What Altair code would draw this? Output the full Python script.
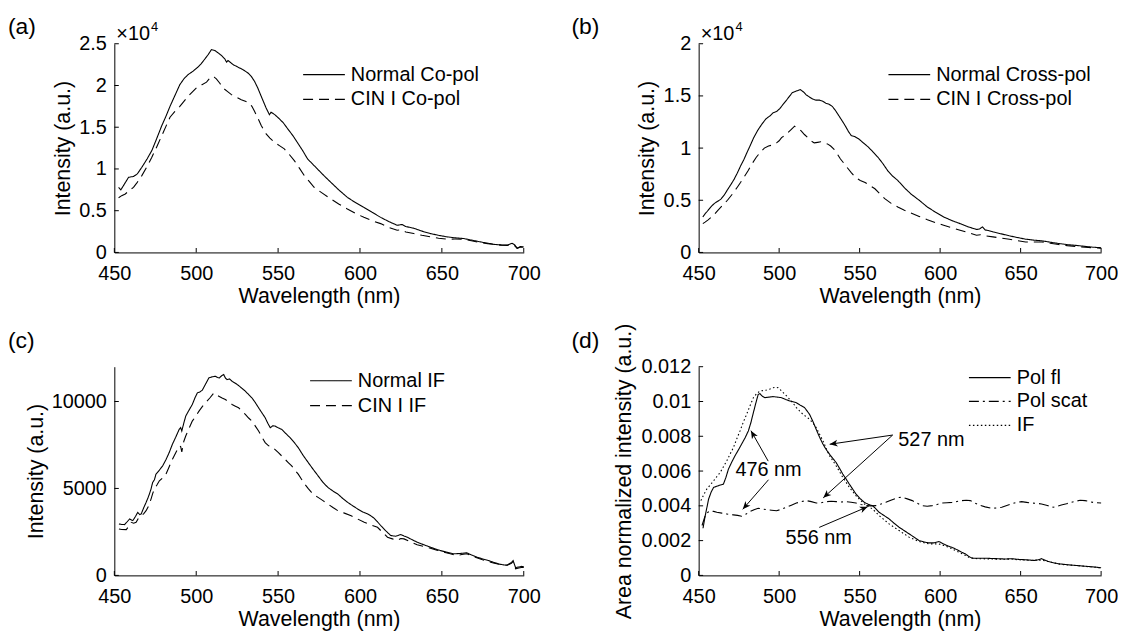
import math
import altair as alt
import pandas as pd

FONT = "Liberation Sans"
W_L, W_R, H = 412, 405, 210

XTICKS = [450, 500, 550, 600, 650, 700]

# ---------------- panel (a): co-polarized (x10^4) ----------------
a_names = ["Normal Co-pol", "CIN I Co-pol"]
a_norm_wl = [452.6, 454.0, 456.5, 458.7, 461.7, 464.0, 466.8, 470.0, 472.9, 476.0, 479.0, 481.5, 484.0, 487.0,
             490.0, 492.5, 495.0, 498.0, 501.0, 503.0, 505.0, 507.3, 509.3, 511.3, 513.4, 515.4, 517.4, 518.5,
             519.4, 522.5, 525.5, 528.5, 531.6, 533.6, 535.6, 537.6, 539.7, 541.2, 542.7, 544.7, 545.7, 548.0,
             550.8, 553.3, 555.9, 559.0, 562.0, 565.0, 568.0, 571.0, 574.0, 578.0, 582.2, 587.0, 592.3, 597.0,
             602.4, 607.5, 612.6, 617.6, 622.7, 625.7, 628.0, 632.8, 637.8, 642.9, 648.0, 653.0, 658.0, 663.2,
             668.0, 673.3, 678.0, 682.4, 686.0, 690.0, 692.8, 694.5, 696.0, 698.0, 700.0]
a_norm_val = [0.78, 0.75, 0.83, 0.90, 0.91, 0.94, 1.02, 1.12, 1.22, 1.37, 1.52, 1.63, 1.75, 1.88,
              2.01, 2.08, 2.13, 2.17, 2.22, 2.26, 2.31, 2.37, 2.43, 2.42, 2.39, 2.36, 2.32, 2.28,
              2.30, 2.25, 2.22, 2.19, 2.15, 2.11, 2.05, 1.97, 1.87, 1.80, 1.73, 1.65, 1.68, 1.65,
              1.60, 1.55, 1.48, 1.40, 1.31, 1.22, 1.12, 1.06, 1.00, 0.92, 0.84, 0.75, 0.66, 0.60,
              0.54, 0.48, 0.42, 0.37, 0.325, 0.335, 0.31, 0.29, 0.255, 0.226, 0.205, 0.187, 0.175, 0.167,
              0.148, 0.127, 0.11, 0.095, 0.09, 0.088, 0.11, 0.09, 0.05, 0.07, 0.065]
a_cin_wl = [452.6, 454.5, 456.7, 459.0, 461.7, 464.0, 466.8, 470.0, 472.9, 476.0, 479.0, 481.5, 484.0, 487.0,
            490.0, 492.5, 495.0, 498.0, 501.0, 503.5, 506.3, 508.0, 509.7, 511.0, 512.3, 514.3, 516.4, 519.0,
            521.5, 524.5, 527.5, 530.0, 532.6, 534.0, 535.6, 537.6, 539.7, 541.2, 542.7, 545.0, 547.8, 550.8,
            553.8, 557.0, 559.9, 563.0, 566.0, 569.0, 572.0, 577.0, 582.2, 587.0, 592.3, 597.0, 602.4, 607.5,
            612.6, 617.6, 622.7, 625.0, 628.0, 632.8, 637.8, 642.9, 648.0, 653.0, 658.0, 663.2, 668.0, 673.3,
            678.0, 682.4, 686.0, 690.0, 692.8, 694.5, 696.0, 698.0, 700.0]
a_cin_val = [0.655, 0.68, 0.70, 0.74, 0.78, 0.84, 0.92, 1.03, 1.14, 1.27, 1.40, 1.51, 1.62, 1.69,
             1.75, 1.81, 1.87, 1.93, 1.99, 2.01, 2.04, 2.08, 2.11, 2.10, 2.08, 2.03, 1.97, 1.93,
             1.89, 1.86, 1.83, 1.81, 1.79, 1.75, 1.69, 1.61, 1.52, 1.47, 1.42, 1.37, 1.32, 1.28,
             1.24, 1.17, 1.10, 1.01, 0.92, 0.85, 0.78, 0.71, 0.64, 0.58, 0.52, 0.47, 0.42, 0.38,
             0.345, 0.30, 0.266, 0.27, 0.245, 0.226, 0.205, 0.187, 0.17, 0.159, 0.16, 0.159, 0.14, 0.119,
             0.105, 0.095, 0.088, 0.085, 0.10, 0.08, 0.05, 0.065, 0.06]

# ---------------- panel (b): cross-polarized (x10^4) ----------------
b_names = ["Normal Cross-pol", "CIN I Cross-pol"]
b_norm_wl = [452.6, 454.0, 455.7, 457.8, 459.8, 461.8, 463.8, 465.9, 467.9, 470.0, 472.0, 474.0, 476.1, 478.1,
             480.1, 482.2, 484.2, 486.7, 489.3, 491.8, 494.4, 496.4, 498.4, 500.5, 502.5, 504.6, 506.6, 508.1,
             509.6, 511.3, 513.1, 515.0, 516.8, 518.8, 520.8, 522.8, 524.9, 527.0, 529.0, 531.0, 533.0, 535.0,
             537.1, 539.2, 541.2, 543.0, 544.8, 547.0, 549.3, 552.3, 555.4, 558.5, 561.5, 564.5, 567.6, 570.6,
             573.7, 577.8, 581.9, 587.0, 592.1, 597.2, 602.2, 607.3, 612.4, 617.5, 622.6, 624.5, 626.3, 628.0,
             630.0, 632.8, 638.0, 643.0, 648.0, 653.1, 658.2, 663.3, 668.4, 673.5, 679.0, 684.0, 690.0, 695.0, 700.0]
b_norm_val = [0.34, 0.37, 0.40, 0.44, 0.47, 0.49, 0.51, 0.55, 0.60, 0.65, 0.70, 0.76, 0.83, 0.89,
              0.96, 1.03, 1.10, 1.17, 1.23, 1.28, 1.31, 1.34, 1.35, 1.38, 1.42, 1.46, 1.50, 1.53,
              1.54, 1.55, 1.56, 1.54, 1.51, 1.49, 1.47, 1.46, 1.46, 1.45, 1.43, 1.42, 1.40, 1.36,
              1.31, 1.26, 1.21, 1.16, 1.12, 1.11, 1.09, 1.05, 1.01, 0.96, 0.91, 0.85, 0.78, 0.73,
              0.69, 0.62, 0.56, 0.50, 0.435, 0.385, 0.34, 0.305, 0.276, 0.245, 0.22, 0.225, 0.245, 0.215,
              0.21, 0.197, 0.178, 0.159, 0.143, 0.127, 0.118, 0.111, 0.098, 0.086, 0.075, 0.068, 0.058, 0.05, 0.045]
b_cin_wl = [452.6, 454.0, 455.7, 458.8, 461.8, 464.8, 467.9, 471.0, 474.0, 476.0, 478.1, 480.6, 483.2, 485.7,
            488.3, 490.8, 493.4, 496.0, 498.4, 500.0, 501.5, 503.5, 505.6, 507.6, 509.6, 511.6, 513.7, 515.7,
            517.8, 519.8, 521.8, 523.9, 525.9, 528.0, 530.0, 532.0, 534.0, 536.1, 538.1, 540.2, 542.2, 544.8,
            547.3, 550.4, 553.4, 556.5, 559.5, 562.6, 565.6, 569.6, 573.7, 577.8, 581.9, 587.0, 592.1, 597.2,
            602.2, 607.3, 612.4, 617.5, 622.6, 625.0, 627.7, 632.8, 638.0, 643.0, 648.0, 653.1, 658.2, 663.3,
            668.4, 673.5, 679.0, 684.0, 690.0, 695.0, 700.0]
b_cin_val = [0.276, 0.29, 0.31, 0.35, 0.40, 0.45, 0.50, 0.56, 0.625, 0.67, 0.72, 0.78, 0.85, 0.91,
             0.96, 1.00, 1.02, 1.03, 1.05, 1.07, 1.10, 1.12, 1.15, 1.18, 1.21, 1.19, 1.165, 1.13,
             1.10, 1.07, 1.05, 1.055, 1.06, 1.05, 1.04, 1.02, 0.99, 0.945, 0.895, 0.855, 0.815, 0.765,
             0.72, 0.69, 0.67, 0.64, 0.61, 0.56, 0.515, 0.47, 0.435, 0.405, 0.378, 0.345, 0.314, 0.285,
             0.26, 0.235, 0.213, 0.19, 0.165, 0.17, 0.16, 0.149, 0.138, 0.127, 0.113, 0.10, 0.10, 0.10,
             0.088, 0.076, 0.065, 0.058, 0.05, 0.045, 0.04]

# ---------------- panel (c): intrinsic fluorescence ----------------
c_names = ["Normal IF", "CIN I IF"]
c_norm_wl = [452.8, 454.5, 456.3, 458.0, 459.3, 461.3, 463.0, 464.3, 465.5, 466.4, 468.0, 469.4, 470.5, 471.4,
             472.4, 473.4, 474.5, 475.4, 477.5, 479.5, 481.5, 483.5, 485.5, 487.5, 489.6, 490.5, 491.2, 492.4,
             493.6, 495.6, 497.6, 499.2, 500.7, 502.2, 503.7, 505.7, 507.7, 509.8, 511.8, 513.0, 514.2, 515.5,
             516.8, 517.8, 518.8, 520.3, 521.9, 523.9, 525.9, 528.0, 530.0, 532.0, 534.0, 536.0, 538.1, 540.1,
             542.1, 543.7, 545.2, 546.7, 548.2, 550.2, 552.2, 554.8, 557.3, 559.8, 562.3, 565.3, 568.4, 571.4,
             574.4, 577.4, 580.4, 583.5, 586.5, 589.5, 592.5, 595.6, 598.6, 601.7, 604.7, 606.7, 608.7, 610.7,
             612.7, 615.8, 618.8, 621.8, 624.8, 626.8, 628.9, 631.9, 634.9, 639.0, 643.0, 646.0, 649.0, 653.0,
             657.2, 661.2, 665.2, 668.2, 671.3, 674.8, 678.3, 682.0, 685.0, 688.0, 690.0, 692.5, 693.5, 695.0,
             697.0, 698.5, 700.0]
c_norm_val = [2958, 2930, 2920, 3100, 3244, 3149, 3400, 3626, 3500, 3530, 3900, 4198, 4450, 4676,
              4962, 5344, 5500, 5821, 6050, 6298, 6650, 7061, 7550, 7950, 8397, 8500, 8302, 8750,
              9160, 9500, 9828, 10200, 10496, 10550, 10649, 11000, 11355, 11420, 11450, 11380, 11355, 11480,
              11546, 11350, 11260, 11300, 11164, 11050, 10916, 10750, 10592, 10400, 10210, 9950, 9637, 9350,
              9065, 8750, 8492, 8600, 8588, 8480, 8397, 8150, 7920, 7650, 7347, 6900, 6489, 6100,
              5725, 5350, 5057, 4850, 4676, 4420, 4198, 4000, 3817, 3650, 3530, 3420, 3282, 3080,
              2863, 2560, 2290, 2250, 2347, 2270, 2195, 2050, 1908, 1760, 1622, 1520, 1431, 1330,
              1240, 1260, 1298, 1170, 1050, 950, 859, 740, 650, 600, 600, 750, 850, 450,
              480, 520, 500]
c_cin_wl = [452.8, 454.5, 457.3, 459.0, 460.3, 461.8, 463.3, 464.8, 466.4, 468.0, 469.4, 471.0, 472.4, 473.4,
            474.4, 476.0, 477.5, 479.5, 481.5, 483.5, 485.5, 487.5, 489.6, 490.5, 491.2, 492.4, 493.6, 495.6,
            497.6, 499.7, 501.7, 503.7, 505.7, 508.3, 510.8, 512.3, 513.8, 515.8, 517.8, 519.9, 521.9, 523.9,
            525.9, 528.0, 530.0, 532.0, 534.0, 536.0, 538.1, 540.1, 542.1, 544.2, 546.2, 548.2, 550.2, 552.2,
            554.2, 556.2, 558.3, 560.3, 562.3, 564.3, 566.3, 568.3, 570.4, 572.4, 574.4, 577.4, 580.4, 583.5,
            586.5, 590.5, 594.6, 598.6, 602.6, 606.7, 610.7, 613.7, 616.8, 619.8, 622.8, 624.9, 626.9, 630.9,
            634.9, 639.0, 643.0, 647.0, 651.1, 655.1, 659.2, 662.2, 665.2, 668.2, 671.3, 674.8, 678.3, 682.0,
            685.0, 688.0, 690.0, 692.5, 693.5, 695.0, 697.0, 698.5, 700.0]
c_cin_val = [2672, 2640, 2634, 2850, 3053, 3000, 3053, 3300, 3435, 3550, 3721, 4000, 4389, 4700,
             4962, 5200, 5439, 5600, 5821, 6250, 6679, 7050, 7443, 7400, 7100, 7700, 8015, 8450,
             8874, 9150, 9447, 9700, 9924, 10200, 10496, 10380, 10305, 10200, 10115, 9970, 9828, 9730,
             9637, 9450, 9256, 9050, 8874, 8600, 8302, 7950, 7634, 7450, 7405, 7230, 7061, 6870,
             6679, 6490, 6298, 6050, 5821, 5530, 5248, 5000, 4771, 4600, 4485, 4300, 4103, 3900,
             3721, 3580, 3435, 3240, 3053, 2900, 2767, 2480, 2195, 2100, 2004, 2120, 2099, 1920,
             1756, 1660, 1565, 1450, 1336, 1240, 1145, 1200, 1240, 1120, 1011, 900, 802, 700,
             640, 590, 580, 700, 800, 380, 420, 450, 460]

# ---------------- panel (d): area-normalized ----------------
d_names = ["Pol fl", "Pol scat", "IF"]
d_fl_wl = [452.7, 454.1, 456.2, 457.8, 459.3, 462.3, 465.4, 467.0, 468.5, 470.5, 472.6, 474.6, 476.7, 478.8,
           480.9, 482.5, 484.0, 485.5, 487.0, 488.1, 489.6, 491.2, 493.8, 496.3, 498.9, 501.4, 504.0, 506.6,
           508.6, 510.7, 513.2, 515.8, 518.9, 521.0, 523.0, 525.1, 527.2, 529.2, 531.3, 533.4, 535.4, 537.5,
           539.5, 541.6, 543.6, 545.7, 547.7, 550.3, 552.9, 555.5, 558.0, 560.1, 562.1, 565.2, 568.3, 571.4,
           574.5, 577.6, 580.7, 583.8, 586.8, 590.0, 593.0, 596.0, 599.2, 602.3, 605.3, 608.4, 611.5, 613.5,
           615.6, 617.7, 619.8, 624.0, 628.0, 632.0, 636.2, 640.3, 644.4, 648.5, 652.7, 655.8, 658.8, 661.0,
           663.0, 665.0, 667.1, 670.2, 673.3, 676.4, 679.4, 683.0, 687.0, 691.0, 695.0, 700.0]
d_fl_val = [0.00271, 0.00344, 0.00439, 0.00480, 0.00506, 0.00516, 0.00525, 0.00565, 0.00611, 0.00650, 0.00688,
            0.00720, 0.00755, 0.00790, 0.00831, 0.00880, 0.00936, 0.00990, 0.01041, 0.01045, 0.01030, 0.01022,
            0.01025, 0.01028, 0.01025, 0.01022, 0.01012, 0.01003, 0.00998, 0.00993, 0.00978, 0.00965, 0.00926,
            0.00885, 0.00840, 0.00795, 0.00755, 0.00724, 0.00697, 0.00672, 0.00649, 0.00616, 0.00583, 0.00554,
            0.00525, 0.00496, 0.00468, 0.00442, 0.00420, 0.00408, 0.00401, 0.00383, 0.00363, 0.00344, 0.00325,
            0.00300, 0.00277, 0.00258, 0.00239, 0.00220, 0.00201, 0.00192, 0.00187, 0.00187, 0.00195, 0.00180,
            0.00168, 0.00157, 0.00143, 0.00133, 0.00124, 0.00110, 0.00099, 0.00099, 0.00099, 0.00097, 0.00096,
            0.00094, 0.00096, 0.00092, 0.00090, 0.00088, 0.00086, 0.00090, 0.00096, 0.00088, 0.00080, 0.00073,
            0.00067, 0.00064, 0.00061, 0.00058, 0.00055, 0.00052, 0.00049, 0.00044]
d_scat_wl = [452.1, 454.1, 455.6, 457.2, 459.3, 461.3, 464.4, 467.5, 469.6, 471.6, 474.2, 476.7, 479.3, 481.9,
             484.4, 487.0, 489.6, 492.2, 495.3, 498.4, 501.5, 504.5, 507.6, 510.7, 513.8, 516.9, 520.0, 523.0,
             526.1, 529.2, 532.3, 535.4, 538.5, 541.6, 544.7, 547.7, 550.8, 553.9, 557.0, 560.1, 563.2, 566.3,
             569.4, 572.4, 574.5, 576.5, 579.6, 582.7, 585.8, 588.9, 592.0, 595.1, 598.2, 601.2, 604.3, 607.4,
             610.5, 613.6, 616.2, 618.7, 621.3, 623.9, 628.0, 632.1, 635.2, 638.3, 641.4, 644.4, 647.5, 650.6,
             653.7, 656.8, 659.9, 663.0, 666.6, 670.2, 672.8, 675.3, 678.5, 681.5, 684.0, 687.0, 690.0, 693.0,
             696.0, 700.0]
d_scat_val = [0.00287, 0.00344, 0.00362, 0.00372, 0.00368, 0.00363, 0.00358, 0.00353, 0.00350, 0.00348, 0.00345,
              0.00340, 0.00352, 0.00367, 0.00378, 0.00386, 0.00382, 0.00378, 0.00375, 0.00372, 0.00380, 0.00392,
              0.00404, 0.00416, 0.00424, 0.00430, 0.00424, 0.00416, 0.00418, 0.00424, 0.00426, 0.00424, 0.00422,
              0.00424, 0.00421, 0.00416, 0.00408, 0.00401, 0.00400, 0.00401, 0.00410, 0.00420, 0.00432, 0.00443,
              0.00448, 0.00449, 0.00440, 0.00430, 0.00415, 0.00401, 0.00398, 0.00401, 0.00408, 0.00416, 0.00418,
              0.00420, 0.00425, 0.00430, 0.00432, 0.00430, 0.00418, 0.00405, 0.00394, 0.00386, 0.00388, 0.00392,
              0.00402, 0.00411, 0.00420, 0.00424, 0.00420, 0.00416, 0.00414, 0.00411, 0.00402, 0.00392, 0.00398,
              0.00405, 0.00412, 0.00420, 0.00426, 0.00432, 0.00430, 0.00424, 0.00418, 0.00416]
d_if_wl = [451.4, 453.2, 455.1, 457.2, 459.3, 461.3, 463.4, 465.4, 467.5, 469.5, 471.6, 473.6, 475.7, 477.7,
           479.8, 481.9, 484.0, 486.0, 488.1, 490.2, 492.2, 494.3, 496.3, 497.8, 499.4, 501.0, 502.5, 504.6,
           506.6, 508.7, 510.7, 512.8, 514.8, 516.9, 518.9, 521.0, 523.0, 525.1, 527.2, 529.2, 531.3, 533.4,
           535.4, 537.5, 539.5, 541.6, 543.6, 545.7, 547.7, 550.3, 552.9, 555.5, 558.0, 560.1, 562.1, 565.2,
           568.3, 571.4, 574.5, 577.6, 580.7, 583.8, 586.8, 590.0, 593.0, 596.0, 599.2, 602.3, 605.3, 608.4,
           611.5, 614.6, 617.7, 620.8, 623.9, 628.0, 632.0, 636.2, 640.3, 644.4, 648.5, 652.7, 656.8, 661.0,
           665.0, 669.0, 673.3, 677.0, 681.0, 685.0, 690.0, 695.0, 700.0]
d_if_val = [0.00430, 0.00465, 0.00497, 0.00520, 0.00544, 0.00568, 0.00592, 0.00625, 0.00659, 0.00697, 0.00735,
            0.00783, 0.00831, 0.00880, 0.00926, 0.00975, 0.01022, 0.01045, 0.01060, 0.01063, 0.01066, 0.01072,
            0.01079, 0.01082, 0.01079, 0.01065, 0.01051, 0.01032, 0.01012, 0.00990, 0.00965, 0.00945, 0.00926,
            0.00912, 0.00898, 0.00876, 0.00850, 0.00812, 0.00774, 0.00731, 0.00688, 0.00659, 0.00630, 0.00597,
            0.00564, 0.00535, 0.00506, 0.00482, 0.00458, 0.00434, 0.00411, 0.00396, 0.00382, 0.00363, 0.00344,
            0.00320, 0.00296, 0.00277, 0.00258, 0.00239, 0.00220, 0.00207, 0.00195, 0.00188, 0.00181, 0.00181,
            0.00181, 0.00172, 0.00162, 0.00148, 0.00134, 0.00120, 0.00105, 0.00098, 0.00096, 0.00095, 0.00094,
            0.00093, 0.00093, 0.00094, 0.00090, 0.00088, 0.00086, 0.00088, 0.00085, 0.00076, 0.00066, 0.00062,
            0.00059, 0.00056, 0.00052, 0.00048, 0.00043]

# annotations of panel (d)
d_note_text = ["476 nm", "527 nm", "556 nm"]
d_note_x = [493.4, 594.6, 524.6]
d_note_y = [0.00603, 0.00780, 0.00217]
d_arrow_x0 = [493.2, 493.4, 570.5, 570.5, 524.9]
d_arrow_y0 = [0.00657, 0.00550, 0.00807, 0.00807, 0.00276]
d_arrow_x1 = [482.5, 477.4, 531.4, 527.4, 555.0]
d_arrow_y1 = [0.00832, 0.00380, 0.00754, 0.00446, 0.00395]

SOLID, DASH, DASHDOT, DOT = [1, 0], [10, 6], [10, 4, 2, 4], [1.5, 2.5]


def series_df(names, wls, vals):
    rows = []
    for n, w, v in zip(names, wls, vals):
        for a, b in zip(w, v):
            rows.append({"wl": a, "val": b, "series": n})
    return pd.DataFrame(rows)


def panel(df, names, dashes, ymax, yticks, yfmt, width, ytitle, ytitle_x, lx, ly, clip_h,
          label, label_dx, label_dy, exponent=False, arrows=None, notes=None):
    xs = alt.Scale(domain=[450, 700], nice=False, zero=False)
    ys = alt.Scale(domain=[0, ymax], nice=False)
    xaxis = alt.Axis(values=XTICKS, format="d", title="Wavelength (nm)", titleY=44,
                     titleBaseline="middle", labelPadding=11)
    yaxis = alt.Axis(values=yticks, format=yfmt, title=ytitle, titleX=ytitle_x,
                     titleBaseline="middle", titleAlign="center", labelPadding=8)

    def X(f):
        return alt.X(f, type="quantitative", scale=xs, axis=xaxis)

    def Y(f):
        return alt.Y(f, type="quantitative", scale=ys, axis=yaxis)

    lines = alt.Chart(df).mark_line(color="black", strokeWidth=1.1).encode(
        x=X("wl"), y=Y("val"),
        strokeDash=alt.StrokeDash("series:N", scale=alt.Scale(domain=names, range=dashes),
                                  legend=alt.Legend(
                                      title=None, orient="none", legendX=lx, legendY=ly,
                                      symbolType="stroke", symbolSize=1764, symbolStrokeWidth=1.2,
                                      symbolStrokeColor="black", labelFont=FONT, labelFontSize=20,
                                      labelColor="black", clipHeight=clip_h, rowPadding=0, padding=0,
                                      labelOffset=5, symbolOffset=0, offset=0)),
    )
    xt = alt.Chart(pd.DataFrame({"wl": XTICKS, "val": [0] * len(XTICKS)})).mark_tick(
        orient="vertical", size=4.5, thickness=1, color="black", yOffset=-2.25, opacity=1
    ).encode(x=X("wl"), y=Y("val"))
    yt = alt.Chart(pd.DataFrame({"wl": [450] * len(yticks), "val": yticks})).mark_tick(
        orient="horizontal", size=4.5, thickness=1, color="black", xOffset=2.25, opacity=1
    ).encode(x=X("wl"), y=Y("val"))
    corner = pd.DataFrame({"wl": [450], "val": [ymax]})
    lab = alt.Chart(corner).mark_text(
        text=label, font=FONT, fontSize=23, align="left", baseline="middle",
        dx=label_dx, dy=label_dy, color="black"
    ).encode(x=X("wl"), y=Y("val"))
    layers = [lines, xt, yt, lab]
    if exponent:
        layers.append(alt.Chart(corner).mark_text(
            text="×10", font=FONT, fontSize=20, align="left", baseline="middle", dx=2, dy=-10,
            color="black").encode(x=X("wl"), y=Y("val")))
        layers.append(alt.Chart(corner).mark_text(
            text="4", font=FONT, fontSize=13, align="left", baseline="middle", dx=37, dy=-17,
            color="black").encode(x=X("wl"), y=Y("val")))
    if arrows is not None:
        layers.append(alt.Chart(arrows).mark_rule(color="black", strokeWidth=1).encode(
            x=X("x0"), y=Y("y0"), x2="x1:Q", y2="y1:Q"))
        layers.append(alt.Chart(arrows).mark_point(
            shape="M0,0L-1,-0.42L-0.72,0L-1,0.42Z", filled=True, size=256, color="black",
            opacity=1, strokeWidth=0).encode(
            x=X("x1"), y=Y("y1"), angle=alt.Angle("ang:Q", scale=None)))
    if notes is not None:
        layers.append(alt.Chart(notes).mark_text(
            font=FONT, fontSize=20, align="center", baseline="middle", color="black").encode(
            x=X("wl"), y=Y("val"), text="t:N"))
    return alt.layer(*layers).properties(width=width, height=H)


pa = panel(series_df(a_names, [a_norm_wl, a_cin_wl], [a_norm_val, a_cin_val]), a_names, [SOLID, DASH],
           2.5, [0, 0.5, 1, 1.5, 2, 2.5], "~g", W_L, "Intensity (a.u.)", -51.5, 189, 18.5, 25,
           "(a)", -107, -17, exponent=True)
pb = panel(series_df(b_names, [b_norm_wl, b_cin_wl], [b_norm_val, b_cin_val]), b_names, [SOLID, DASH],
           2.0, [0, 0.5, 1, 1.5, 2], "~g", W_R, "Intensity (a.u.)", -51.7, 190, 18.5, 25,
           "(b)", -128, -17, exponent=True)
pc = panel(series_df(c_names, [c_norm_wl, c_cin_wl], [c_norm_val, c_cin_val]), c_names, [SOLID, DASH],
           12000, [0, 5000, 10000], "d", W_L, "Intensity (a.u.)", -78, 196, 2, 24.3,
           "(c)", -107, -26)

# arrow geometry for (d): head angle from the pixel scale of the panel
px_per_nm = W_R / 250.0
px_per_unit = H / 0.012
ang = []
for x0, y0, x1, y1 in zip(d_arrow_x0, d_arrow_y0, d_arrow_x1, d_arrow_y1):
    dxp = (x1 - x0) * px_per_nm
    dyp = -(y1 - y0) * px_per_unit
    ang.append(math.degrees(math.atan2(dyp, dxp)) % 360)
arrows_df = pd.DataFrame({"x0": d_arrow_x0, "y0": d_arrow_y0, "x1": d_arrow_x1, "y1": d_arrow_y1, "ang": ang})
notes_df = pd.DataFrame({"t": d_note_text, "wl": d_note_x, "val": d_note_y})

pd_ = panel(series_df(d_names, [d_fl_wl, d_scat_wl, d_if_wl], [d_fl_val, d_scat_val, d_if_val]), d_names,
            [SOLID, DASHDOT, DOT], 0.012, [0, 0.002, 0.004, 0.006, 0.008, 0.01, 0.012], "~g", W_R,
            "Area normalized intensity (a.u.)", -74.7, 271, -0.7, 23.35,
            "(d)", -128, -26, arrows=arrows_df, notes=notes_df)

chart = alt.concat(pa, pb, pc, pd_, columns=2, spacing={"row": 115, "column": 176}, bounds="flush").resolve_scale(
    x="independent", y="independent", strokeDash="independent"
).resolve_legend(strokeDash="independent").properties(
    padding={"left": 0, "top": 6, "right": 0, "bottom": 0}, background="white"
).configure_view(stroke=None).configure_axis(
    domainColor="black", domainWidth=1, ticks=False, tickSize=0, grid=False, labelFlush=False,
    labelFont=FONT, labelFontSize=20, labelColor="black", titleFont=FONT, titleFontSize=21.5,
    titleFontWeight="normal", titleColor="black", labelOverlap=False
).configure_text(font=FONT)

chart.save("out.html", embed_options={"renderer": "svg", "actions": False})
